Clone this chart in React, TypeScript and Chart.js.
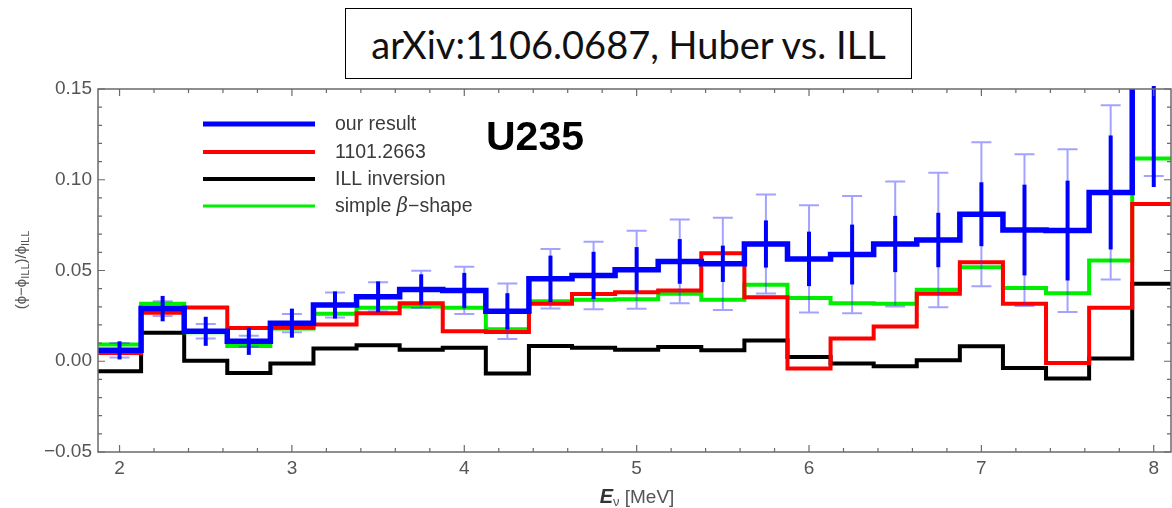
import React, { useEffect, useRef } from "react";
import { Chart, registerables } from "chart.js";

Chart.register(...registerables);

// ---- data ----
const binCenters = [2.0, 2.25, 2.5, 2.75, 3.0, 3.25, 3.5, 3.75, 4.0, 4.25, 4.5, 4.75, 5.0, 5.25, 5.5, 5.75, 6.0, 6.25, 6.5, 6.75, 7.0, 7.25, 7.5, 7.75, 8.0];
const binWidth = 0.25;

const ourResult = [0.006, 0.029, 0.0165, 0.011, 0.021, 0.031, 0.0355, 0.0396, 0.039, 0.0275, 0.0454, 0.0473, 0.0504, 0.055, 0.0537, 0.0646, 0.0564, 0.0588, 0.0646, 0.0668, 0.081, 0.0723, 0.072, 0.093, 0.17];
const huber1101 = [0.0046, 0.0267, 0.0296, 0.0183, 0.0185, 0.0202, 0.0264, 0.032, 0.0165, 0.0161, 0.0317, 0.0371, 0.038, 0.039, 0.0595, 0.0353, -0.004, 0.0125, 0.0192, 0.0372, 0.0546, 0.0317, -0.0009, 0.0295, 0.0866];
const illInversion = [-0.0055, 0.0157, 0.0003, -0.0065, -0.0012, 0.007, 0.0088, 0.0064, 0.0075, -0.0068, 0.0084, 0.0075, 0.0064, 0.0079, 0.006, 0.0115, 0.0024, -0.0013, -0.0027, 0.0005, 0.0082, -0.0037, -0.0095, 0.0015, 0.0427];
const simpleBeta = [0.0092, 0.0317, 0.016, 0.0084, 0.018, 0.0262, 0.0295, 0.0302, 0.0295, 0.0176, 0.0331, 0.0339, 0.0342, 0.0372, 0.0339, 0.0421, 0.0348, 0.032, 0.0317, 0.0394, 0.0518, 0.0403, 0.0375, 0.0555, 0.1117];

const errThick = [0.005, 0.007, 0.008, 0.0075, 0.008, 0.0075, 0.0085, 0.0083, 0.0097, 0.01, 0.0128, 0.013, 0.0125, 0.0123, 0.01, 0.013, 0.015, 0.0165, 0.0155, 0.015, 0.0176, 0.025, 0.0275, 0.0314, 0.074];
const errThin = [0.004, 0.004, 0.004, 0.003, 0.005, 0.0069, 0.008, 0.0103, 0.013, 0.0153, 0.0164, 0.0186, 0.0215, 0.0231, 0.0254, 0.0273, 0.0296, 0.0323, 0.0345, 0.037, 0.0397, 0.0418, 0.0448, 0.048, 0.068];

const xTickValues = [2, 3, 4, 5, 6, 7, 8];
const yTickValues = [-0.05, 0, 0.05, 0.1, 0.15];
const yTickLabels = ["\u22120.05", "0.00", "0.05", "0.10", "0.15"];

const legendLabels = ["our result", "1101.2663", "ILL inversion", "simple "];
const titleText = "arXiv:1106.0687, Huber vs. ILL";

const FONT = "'Liberation Sans', Arial, sans-serif";

function stepPoints(values: number[]) {
  const pts = values.map((v, i) => ({ x: binCenters[i] - binWidth / 2, y: v }));
  const last = values.length - 1;
  pts.push({ x: binCenters[last] + binWidth / 2, y: values[last] });
  return pts;
}

const errorBarPlugin = {
  id: "errbars",
  afterDatasetsDraw(chart: any) {
    const { ctx, chartArea: a, scales } = chart;
    const x = scales.x;
    const y = scales.y;
    ctx.save();
    ctx.beginPath();
    ctx.rect(a.left, a.top - 3, a.right - a.left, a.bottom - a.top + 3);
    ctx.clip();
    binCenters.forEach((c, i) => {
      const px = x.getPixelForValue(c);
      const v = ourResult[i];
      const t1 = y.getPixelForValue(v + errThin[i]);
      const t2 = y.getPixelForValue(v - errThin[i]);
      ctx.strokeStyle = "rgba(50,50,255,0.45)";
      ctx.lineWidth = 2;
      ctx.beginPath();
      ctx.moveTo(px, t1);
      ctx.lineTo(px, t2);
      ctx.moveTo(px - 10, t1);
      ctx.lineTo(px + 10, t1);
      ctx.moveTo(px - 10, t2);
      ctx.lineTo(px + 10, t2);
      ctx.stroke();
      const k1 = y.getPixelForValue(v + errThick[i]);
      const k2 = y.getPixelForValue(v - errThick[i]);
      ctx.strokeStyle = "#0000ff";
      ctx.lineWidth = 4;
      ctx.beginPath();
      ctx.moveTo(px, k1);
      ctx.lineTo(px, k2);
      ctx.stroke();
    });
    ctx.restore();
  },
};

const framePlugin = {
  id: "frame",
  afterDraw(chart: any) {
    const { ctx, chartArea: a, scales } = chart;
    const x = scales.x;
    const y = scales.y;
    ctx.save();
    ctx.strokeStyle = "#6a6a6a";
    ctx.lineWidth = 1.5;
    ctx.strokeRect(a.left, a.top, a.right - a.left, a.bottom - a.top);
    ctx.lineWidth = 1.2;
    ctx.beginPath();
    for (let k = Math.ceil(x.min * 5); k <= Math.floor(x.max * 5); k++) {
      const v = k / 5;
      const major = k % 5 === 0;
      const len = major ? 7 : 4;
      const px = x.getPixelForValue(v);
      ctx.moveTo(px, a.bottom);
      ctx.lineTo(px, a.bottom - len);
      ctx.moveTo(px, a.top);
      ctx.lineTo(px, a.top + len);
    }
    for (let k = Math.ceil(y.min * 100 - 1e-6); k <= Math.floor(y.max * 100 + 1e-6); k++) {
      const v = k / 100;
      const major = k % 5 === 0;
      const len = major ? 7 : 4;
      const py = y.getPixelForValue(v);
      ctx.moveTo(a.left, py);
      ctx.lineTo(a.left + len, py);
      ctx.moveTo(a.right, py);
      ctx.lineTo(a.right - len, py);
    }
    ctx.stroke();
    ctx.restore();
  },
};

const decorPlugin = {
  id: "decor",
  afterDraw(chart: any) {
    const { ctx } = chart;
    ctx.save();
    // legend
    const colors = ["#0000ff", "#ff0000", "#000000", "#00ee00"];
    const widths = [5, 4, 4, 3];
    const ys = [124, 152, 179, 206];
    for (let i = 0; i < 4; i++) {
      ctx.strokeStyle = colors[i];
      ctx.lineWidth = widths[i];
      ctx.beginPath();
      ctx.moveTo(203, ys[i]);
      ctx.lineTo(315, ys[i]);
      ctx.stroke();
      ctx.fillStyle = "#3a3a3a";
      ctx.font = `19.5px ${FONT}`;
      ctx.textBaseline = "middle";
      ctx.textAlign = "left";
      ctx.fillText(legendLabels[i], 335, ys[i] + 1);
      if (i === 3) {
        let w = ctx.measureText(legendLabels[i]).width;
        ctx.font = `italic 19.5px 'DejaVu Serif', serif`;
        ctx.fillText("\u03b2", 335 + w, ys[i] + 1);
        w += ctx.measureText("\u03b2").width;
        ctx.font = `19.5px ${FONT}`;
        ctx.fillText("\u2212shape", 335 + w, ys[i] + 1);
      }
    }
    // U235 label
    ctx.fillStyle = "#000";
    ctx.font = `bold 41px ${FONT}`;
    ctx.textBaseline = "alphabetic";
    ctx.fillText("U235", 486, 150);

    // x axis title
    ctx.textBaseline = "alphabetic";
    const parts: [string, string, number, string][] = [
      ["E", `bold italic 20px ${FONT}`, 0, "#333"],
      ["\u03bd", `13px ${FONT}`, 3, "#555"],
      [" [MeV]", `19px ${FONT}`, 0, "#555"],
    ];
    let total = 0;
    parts.forEach((p) => {
      ctx.font = p[1];
      total += ctx.measureText(p[0]).width;
    });
    let cx = 637 - total / 2;
    parts.forEach((p) => {
      ctx.font = p[1];
      ctx.fillStyle = p[3];
      ctx.fillText(p[0], cx, 503 + p[2]);
      cx += ctx.measureText(p[0]).width;
    });

    // y axis title
    ctx.translate(22, 270);
    ctx.rotate(-Math.PI / 2);
    const yparts: [string, string, number][] = [
      ["(\u03d5\u2212\u03d5", `15px ${FONT}`, 0],
      ["ILL", `11px ${FONT}`, 4],
      [")/\u03d5", `15px ${FONT}`, 0],
      ["ILL", `11px ${FONT}`, 4],
    ];
    let yt = 0;
    yparts.forEach((p) => {
      ctx.font = p[1];
      yt += ctx.measureText(p[0]).width;
    });
    let yx = -yt / 2;
    ctx.fillStyle = "#555";
    ctx.textBaseline = "middle";
    yparts.forEach((p) => {
      ctx.font = p[1];
      ctx.fillText(p[0], yx, p[2]);
      yx += ctx.measureText(p[0]).width;
    });
    ctx.restore();
  },
};

export default function App() {
  const canvasRef = useRef<HTMLCanvasElement | null>(null);

  useEffect(() => {
    const canvas = canvasRef.current;
    if (!canvas) return;
    const common = { stepped: true, pointRadius: 0, fill: false, tension: 0 };
    const chart = new Chart(canvas, {
      type: "line",
      data: {
        datasets: [
          { ...common, label: "our result", data: stepPoints(ourResult), borderColor: "#0000ff", borderWidth: 5.5, order: 1 },
          { ...common, label: "1101.2663", data: stepPoints(huber1101), borderColor: "#ff0000", borderWidth: 4, order: 2 },
          { ...common, label: "simple \u03b2-shape", data: stepPoints(simpleBeta), borderColor: "#00ee00", borderWidth: 4, order: 3 },
          { ...common, label: "ILL inversion", data: stepPoints(illInversion), borderColor: "#000000", borderWidth: 4, order: 4 },
        ],
      } as any,
      options: {
        responsive: false,
        animation: false,
        events: [],
        layout: { padding: { top: 89, right: 1, left: 0, bottom: 0 } },
        plugins: { legend: { display: false }, title: { display: false }, tooltip: { enabled: false } },
        scales: {
          x: {
            type: "linear",
            min: 1.875,
            max: 8.1,
            grid: { display: false, drawTicks: false },
            border: { display: false },
            ticks: {
              padding: 5,
              color: "#555",
              font: { family: FONT, size: 19 },
              callback: (v: any) => String(v),
            },
            afterBuildTicks: (s: any) => {
              s.ticks = xTickValues.map((v) => ({ value: v }));
            },
            afterFit: (s: any) => {
              s.height = 56;
            },
          },
          y: {
            type: "linear",
            min: -0.05,
            max: 0.15,
            grid: { display: false, drawTicks: false },
            border: { display: false },
            ticks: {
              padding: 6,
              color: "#555",
              font: { family: FONT, size: 19 },
              callback: (_v: any, i: number) => yTickLabels[i],
            },
            afterBuildTicks: (s: any) => {
              s.ticks = yTickValues.map((v) => ({ value: v }));
            },
            afterFit: (s: any) => {
              s.width = 98;
            },
          },
        },
      } as any,
      plugins: [errorBarPlugin, framePlugin, decorPlugin],
    });
    return () => chart.destroy();
  }, []);

  return (
    <div style={{ position: "fixed", left: 0, top: 0, width: 1172, height: 508, background: "#fff", overflow: "hidden" }}>
      <canvas ref={canvasRef} width={1172} height={508} style={{ display: "block", position: "absolute", left: 0, top: 0 }} />
      <div
        style={{
          position: "absolute",
          left: 345,
          top: 8,
          width: 567,
          height: 71,
          boxSizing: "border-box",
          border: "1.5px solid #000",
          background: "#fff",
          display: "flex",
          alignItems: "center",
          justifyContent: "center",
          fontFamily: "Lato, 'Open Sans', sans-serif",
          fontSize: 38,
          color: "#111",
          whiteSpace: "nowrap",
        }}
      >
        {titleText}
      </div>
    </div>
  );
}
